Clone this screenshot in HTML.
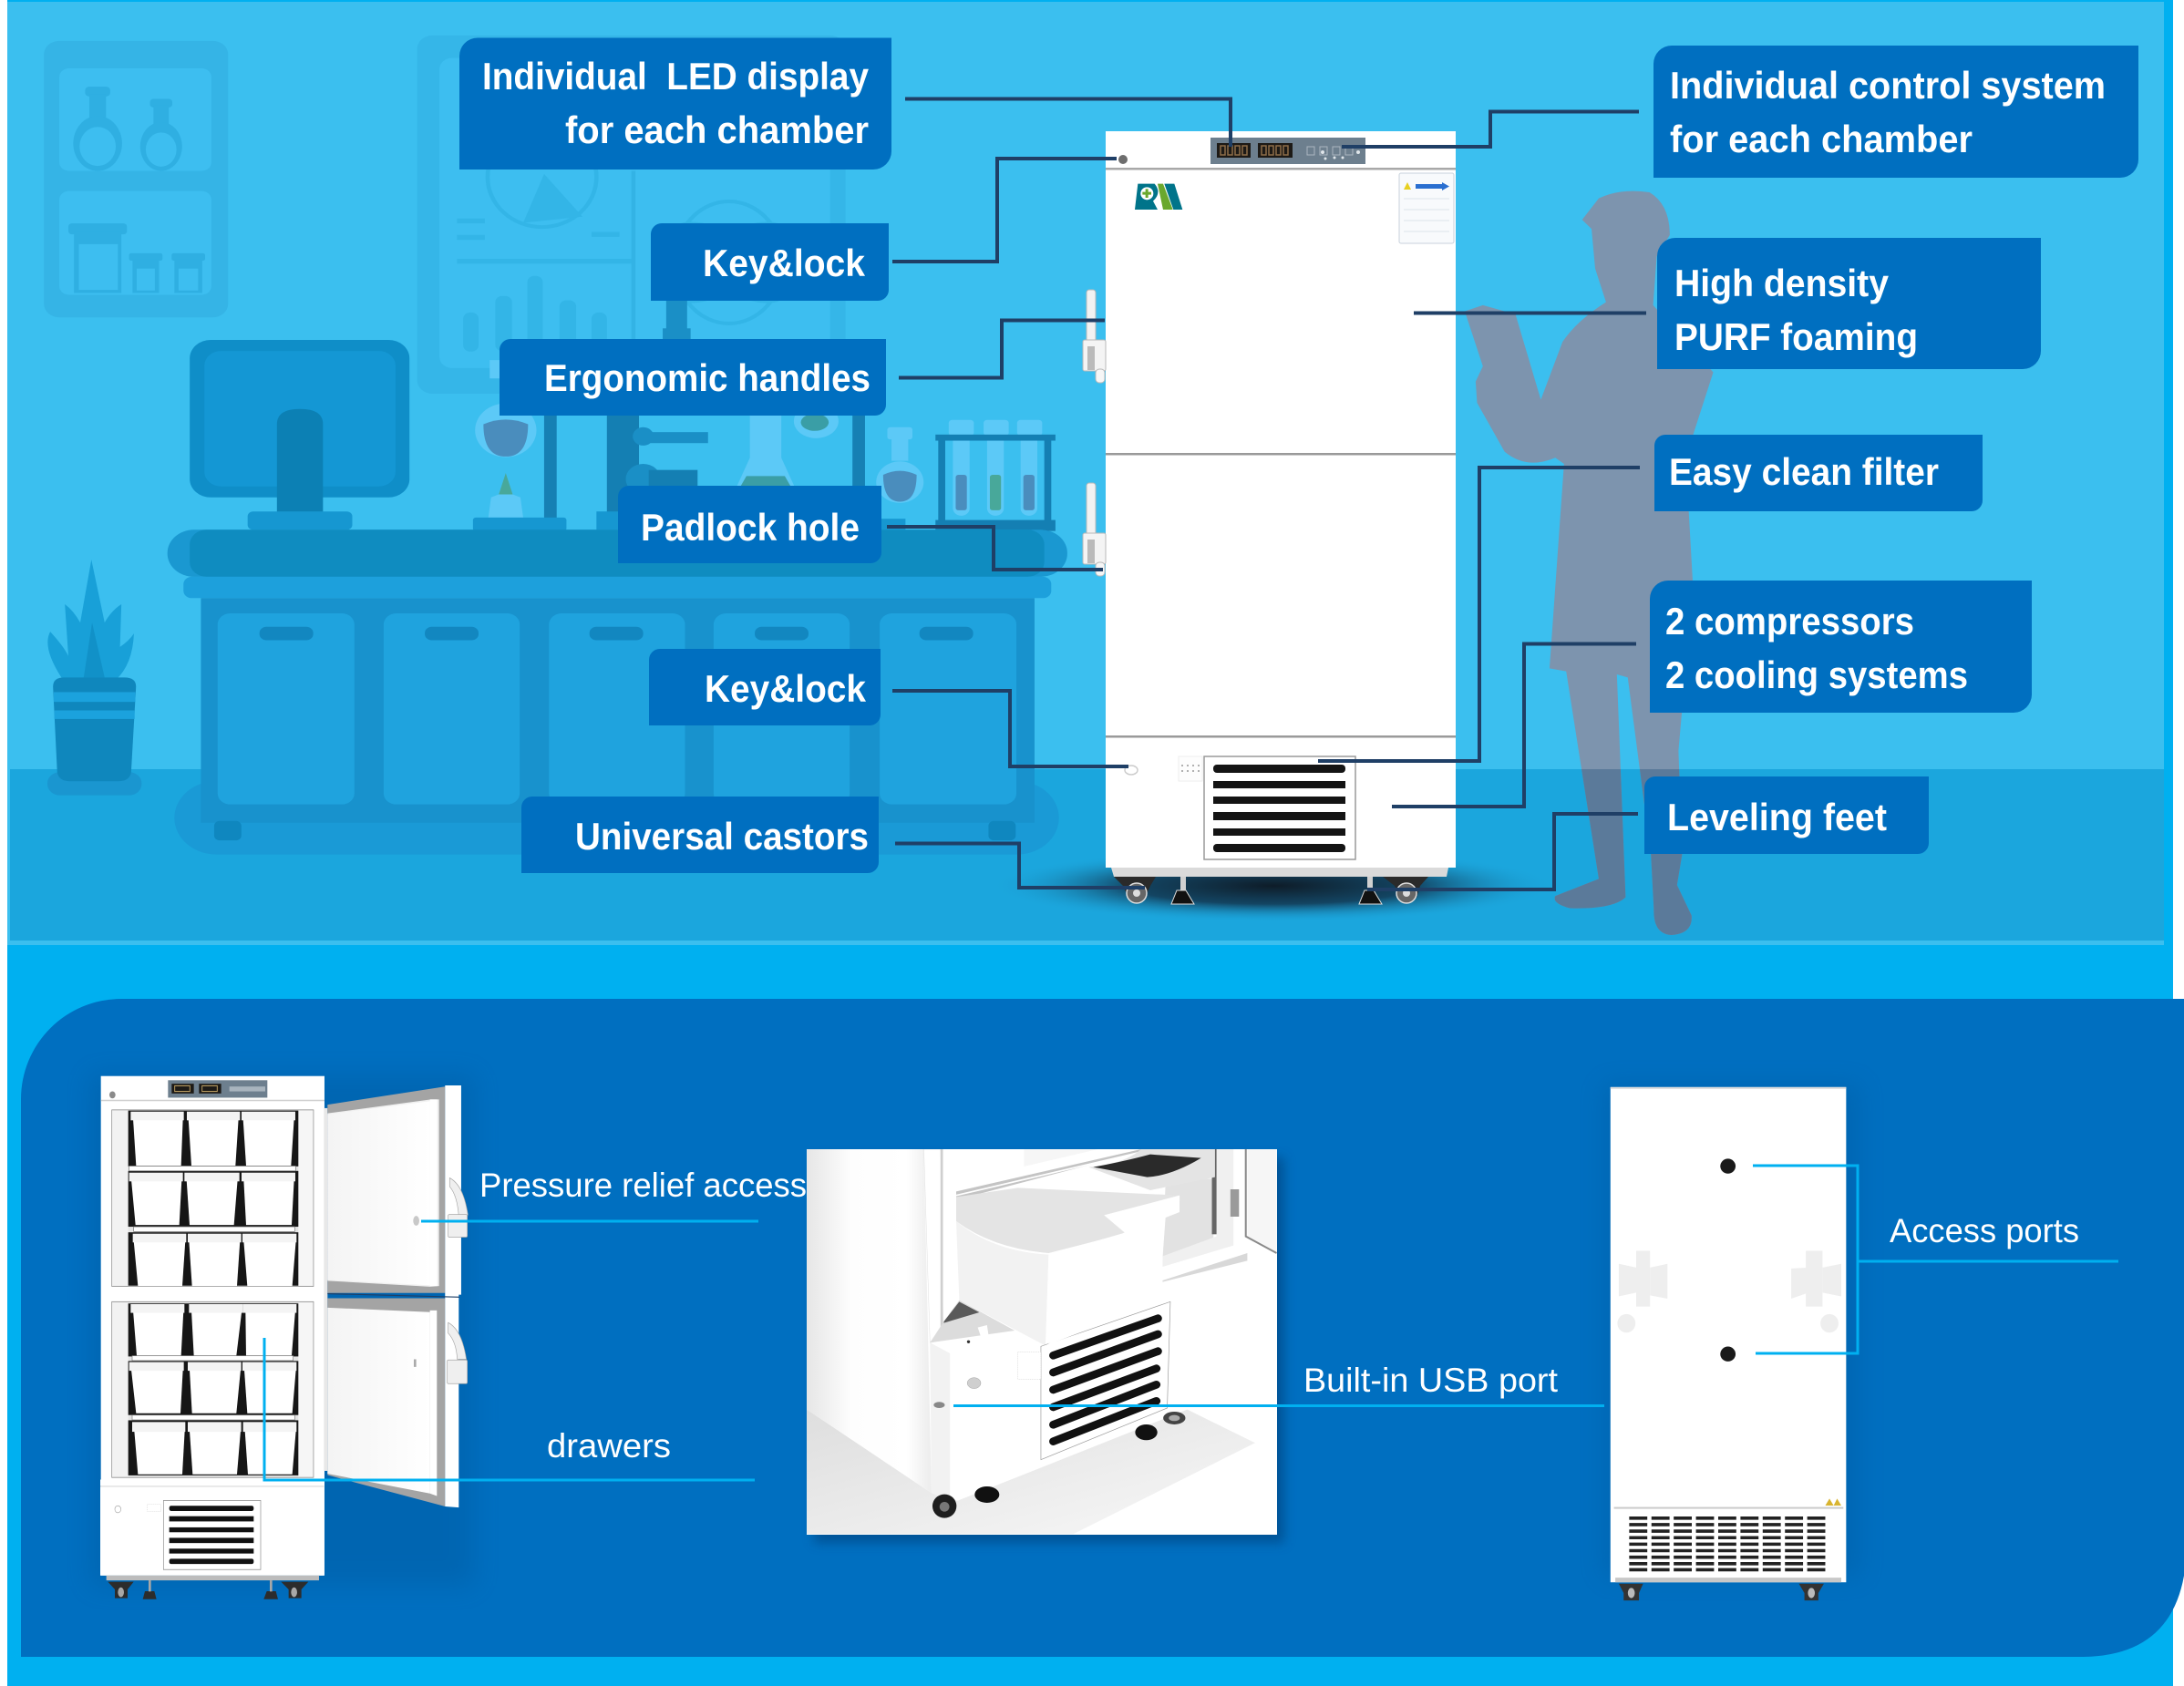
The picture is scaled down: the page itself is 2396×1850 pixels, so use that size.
<!DOCTYPE html>
<html><head><meta charset="utf-8"><style>
html,body{margin:0;padding:0;background:#fff}
svg{display:block}
.b{font-family:"Liberation Sans",sans-serif;font-weight:bold;font-size:42px;fill:#fff}
.r{font-family:"Liberation Sans",sans-serif;font-size:37px;fill:#fff}
</style></head><body>
<svg width="2396" height="1850" viewBox="0 0 2396 1850" xmlns="http://www.w3.org/2000/svg">
<defs>
<filter id="bl" x="-30%" y="-30%" width="160%" height="160%"><feGaussianBlur stdDeviation="14"/></filter>
<filter id="bs" x="-30%" y="-30%" width="160%" height="160%"><feGaussianBlur stdDeviation="6"/></filter>
<linearGradient id="fl" x1="0" y1="0" x2="1" y2="0"><stop offset="0" stop-color="#f4f4f4"/><stop offset="1" stop-color="#ffffff"/></linearGradient>
<linearGradient id="sd" x1="0" y1="0" x2="1" y2="0"><stop offset="0" stop-color="#e6e6e6"/><stop offset=".35" stop-color="#fdfdfd"/><stop offset=".8" stop-color="#ffffff"/><stop offset="1" stop-color="#ececec"/></linearGradient>
<linearGradient id="fr" x1="0" y1="0" x2="1" y2="1"><stop offset="0" stop-color="#dedede"/><stop offset="1" stop-color="#f8f8f8"/></linearGradient>
<radialGradient id="sh"><stop offset="0" stop-color="#0e1c28"/><stop offset=".5" stop-color="#123a55" stop-opacity=".9"/><stop offset="1" stop-color="#1ba6dd" stop-opacity="0"/></radialGradient>
<clipPath id="cf"><rect x="1150" y="844" width="1000" height="300"/></clipPath>
<clipPath id="cp"><rect x="885" y="1261" width="516" height="423"/></clipPath>
<g id="person"><path d="M737,360 L760,325 Q790,308 830,315 Q858,335 858,385 L840,420 L835,500 L850,520 L918,610 L880,750 L890,960 L870,1230 L875,1400 L868,1450 L888,1500 Q890,1530 860,1532 Q835,1530 836,1490 L832,1400 L800,1110 L785,1105 L797,1470 Q780,1490 720,1488 Q695,1480 700,1468 L760,1440 L715,1100 L692,1095 L712,760 L700,750 Q660,770 630,740 L592,660 L590,625 L600,600 L575,510 L600,500 L645,515 L680,655 L710,560 Q730,525 770,495 L755,440 L750,375 Z"/></g>
</defs>

<!-- backgrounds -->
<rect x="8" y="0" width="2376" height="1850" fill="#00b0f0"/>
<rect x="8" y="2" width="2366" height="1035" fill="#3bbfef"/>
<rect x="11" y="844" width="2363" height="188" fill="#1ba6dd"/>

<!-- lab scene -->
<g transform="scale(.7653,.6697)">
  <rect x="63" y="67" width="264" height="453" rx="22" fill="#35b4e6"/>
  <rect x="85" y="112" width="218" height="168" rx="14" fill="#3dbef0"/>
  <rect x="85" y="313" width="218" height="170" rx="14" fill="#3dbef0"/>
  <g fill="#2fafe2">
    <rect x="122" y="142" width="36" height="16" rx="6"/><rect x="128" y="155" width="24" height="40"/><ellipse cx="140" cy="235" rx="35" ry="45"/>
    <rect x="215" y="162" width="32" height="14" rx="5"/><rect x="220" y="172" width="22" height="40"/><ellipse cx="231" cy="240" rx="30" ry="40"/>
    <rect x="98" y="366" width="84" height="18" rx="5"/><rect x="106" y="380" width="68" height="100"/>
    <rect x="185" y="415" width="48" height="12" rx="3"/><rect x="190" y="425" width="38" height="55"/>
    <rect x="246" y="415" width="48" height="12" rx="3"/><rect x="250" y="425" width="40" height="55"/>
  </g>
  <g fill="#3dbef0"><ellipse cx="140" cy="240" rx="26" ry="32"/><ellipse cx="231" cy="245" rx="22" ry="28"/><rect x="113" y="400" width="56" height="75"/><rect x="196" y="440" width="26" height="36"/><rect x="256" y="440" width="28" height="36"/></g>

  <rect x="598" y="58" width="614" height="587" rx="22" fill="#35b6e8"/>
  <rect x="630" y="95" width="560" height="508" rx="18" fill="#3dbef0"/>
  <rect x="905" y="280" width="6" height="320" fill="#33b3e5"/>
  <g fill="none" stroke="#33b5e7" stroke-width="6"><ellipse cx="777" cy="290" rx="78" ry="82"/><ellipse cx="1045" cy="430" rx="78" ry="100"/><ellipse cx="1045" cy="430" rx="95" ry="40" transform="rotate(35 1045 430)"/><ellipse cx="1045" cy="430" rx="95" ry="40" transform="rotate(-35 1045 430)"/></g>
  <path d="M750,365L780,285L835,355Z" fill="#33b5e7"/>
  <g fill="#33b5e7">
    <rect x="655" y="424" width="250" height="8"/><rect x="655" y="358" width="40" height="8"/><rect x="655" y="385" width="40" height="8"/><rect x="848" y="380" width="40" height="8"/>
    <rect x="664" y="512" width="22" height="64" rx="10"/><rect x="710" y="485" width="24" height="90" rx="10"/><rect x="756" y="452" width="22" height="124" rx="10"/><rect x="802" y="492" width="24" height="84" rx="10"/><rect x="848" y="512" width="22" height="64" rx="10"/>
  </g>
  <rect x="955" y="490" width="30" height="55" fill="#1a8fc6"/><rect x="950" y="538" width="40" height="20" fill="#1a8fc6"/>

  <!-- monitor -->
  <rect x="272" y="557" width="315" height="258" rx="30" fill="#0f8ec8"/>
  <rect x="293" y="575" width="274" height="222" rx="24" fill="#1497d4"/>
  <path d="M397,840V695Q397,670 430,670Q463,670 463,695V840Z" fill="#0c80b4"/>
  <rect x="355" y="838" width="150" height="30" rx="8" fill="#1697d1"/>

  <!-- flasks & lab gear -->
  <rect x="702" y="590" width="30" height="30" fill="#5cc9f7"/>
  <circle cx="725" cy="705" r="44" fill="#5cc9f7"/><path d="M693,695Q725,680 757,695Q757,748 725,748Q693,748 693,695Z" fill="#4a8dbd"/>
  <path d="M700,848 L704,815 L715,810 L725,775 L735,810 L746,815 L750,848Z" fill="#5cc9f7"/><path d="M715,810L725,775L735,810Z" fill="#48a89a"/>
  <rect x="780" y="680" width="18" height="170" fill="#1680b4"/><rect x="678" y="848" width="134" height="22" rx="4" fill="#1697d1"/>
  <rect x="870" y="680" width="46" height="170" fill="#147fb3"/>
  <circle cx="922" cy="715" r="15" fill="#1a8fc6"/><rect x="925" y="708" width="90" height="18" fill="#1a8fc6"/>
  <circle cx="922" cy="785" r="25" fill="#1a8fc6"/><rect x="930" y="770" width="70" height="30" fill="#147fb3"/>
  <rect x="855" y="838" width="60" height="30" fill="#1697d1"/>
  <path d="M1075,680 H1120 V750 L1140,800 H1055 L1075,750Z" fill="#5cc9f7"/><path d="M1070,780 H1125 L1135,800 H1060Z" fill="#3a9ea6"/>
  <ellipse cx="1170" cy="690" rx="32" ry="28" fill="#5cc9f7"/><ellipse cx="1168" cy="692" rx="20" ry="14" fill="#3a9ea6"/>
  <rect x="1222" y="680" width="18" height="190" fill="#1680b4"/>
  <rect x="1272" y="700" width="36" height="20" rx="4" fill="#5cc9f7"/><rect x="1278" y="715" width="24" height="40" fill="#5cc9f7"/><circle cx="1290" cy="790" r="34" fill="#5cc9f7"/><path d="M1266,778Q1290,765 1314,778Q1314,822 1290,822Q1266,822 1266,778Z" fill="#4a8dbd"/>
  <g fill="#5cc9f7"><rect x="1360" y="688" width="36" height="26" rx="5"/><rect x="1366" y="710" width="24" height="135" rx="12"/><rect x="1410" y="688" width="36" height="26" rx="5"/><rect x="1415" y="710" width="24" height="135" rx="12"/><rect x="1458" y="688" width="36" height="26" rx="5"/><rect x="1463" y="710" width="24" height="135" rx="12"/></g>
  <rect x="1370" y="778" width="16" height="58" rx="4" fill="#4a8dbd"/><rect x="1419" y="778" width="16" height="58" rx="4" fill="#48a89a"/><rect x="1467" y="778" width="16" height="58" rx="4" fill="#4a8dbd"/>
  <g fill="#147fb3"><rect x="1341" y="712" width="172" height="10"/><rect x="1345" y="715" width="10" height="145"/><rect x="1497" y="715" width="10" height="145"/><rect x="1341" y="852" width="172" height="18"/></g>
  <rect x="1260" y="850" width="38" height="18" fill="#1697d1"/>

  <!-- counter -->
  <rect x="250" y="1280" width="1268" height="120" rx="60" fill="#1a9ad6"/>
  <rect x="240" y="868" width="1290" height="77" rx="38" fill="#1a98d1"/>
  <rect x="272" y="868" width="1225" height="77" rx="24" fill="#0f8cc0"/>
  <rect x="263" y="945" width="1244" height="35" rx="12" fill="#1da0dc"/>
  <rect x="288" y="980" width="1195" height="368" fill="#1892cd"/>
  <g fill="#1fa3de"><rect x="312" y="1005" width="196" height="313" rx="18"/><rect x="550" y="1005" width="195" height="313" rx="18"/><rect x="787" y="1005" width="195" height="313" rx="18"/><rect x="1023" y="1005" width="195" height="313" rx="18"/><rect x="1261" y="1005" width="196" height="313" rx="18"/></g>
  <g fill="#1287c0"><rect x="372" y="1027" width="77" height="22" rx="10"/><rect x="609" y="1027" width="77" height="22" rx="10"/><rect x="845" y="1027" width="77" height="22" rx="10"/><rect x="1082" y="1027" width="77" height="22" rx="10"/><rect x="1318" y="1027" width="77" height="22" rx="10"/></g>
  <rect x="307" y="1345" width="39" height="32" rx="8" fill="#0f87bf"/><rect x="1417" y="1345" width="39" height="32" rx="8" fill="#0f87bf"/>

  <!-- plant -->
  <path d="M88,1110 Q60,1060 72,1035 Q92,1060 98,1075 L93,990 Q105,1000 115,1020 L131,917 L150,1020 Q160,1000 174,990 L172,1060 Q185,1050 192,1038 Q190,1090 165,1115Z" fill="#18a0d8"/>
  <path d="M120,1110 L132,1020 L150,1110Z" fill="#1191c8"/>
  <rect x="68" y="1265" width="135" height="38" rx="18" fill="#1a96d0"/>
  <path d="M76,1125 Q76,1110 92,1110 H178 Q195,1110 195,1125 L188,1265 Q186,1280 170,1280 H100 Q84,1280 82,1265Z" fill="#0f87bd"/>
  <rect x="77" y="1134" width="117" height="16" fill="#1ba2dd"/><rect x="78" y="1164" width="115" height="14" fill="#1ba2dd"/>
</g>

<!-- person -->
<g transform="translate(1150,0) scale(.7947,.6697)" fill="#7d94ae"><use href="#person"/></g>
<g clip-path="url(#cf)"><g transform="translate(1150,0) scale(.7947,.6697)" fill="#5b7a9a"><use href="#person"/></g></g>

<!-- main fridge -->
<ellipse cx="1397" cy="972" rx="310" ry="40" fill="url(#sh)"/>
<rect x="1213" y="144" width="384" height="808" fill="#fff"/>
<rect x="1213" y="184" width="384" height="2.500" fill="#a8a8a8"/>
<rect x="1213" y="497" width="384" height="2.500" fill="#9a9a9a"/>
<rect x="1213" y="807" width="384" height="2.500" fill="#9a9a9a"/>
<rect x="1328" y="151" width="170" height="29" fill="#6d7f8e"/>
<rect x="1335" y="157" width="37" height="16" fill="#1d1a16"/><rect x="1380" y="157" width="38" height="16" fill="#1d1a16"/>
<g fill="none" stroke="#8d6d48" stroke-width="1.500"><path d="M1339,160h5v10h-5zM1347,160h5v10h-5zM1355,160h5v10h-5zM1363,160h5v10h-5zM1384,160h5v10h-5zM1392,160h5v10h-5zM1400,160h5v10h-5zM1408,160h5v10h-5z"/></g>
<g fill="none" stroke="#aab6c0" stroke-width="1"><path d="M1434,161h8v9h-8zM1448,161h8v9h-8zM1462,161h8v9h-8zM1476,161h8v9h-8z"/></g>
<g fill="#dfe5ea"><circle cx="1451" cy="167" r="2"/><circle cx="1490" cy="167" r="2"/><circle cx="1454" cy="174" r="1.500"/><circle cx="1464" cy="173" r="1.500"/><circle cx="1473" cy="173" r="1.500"/></g>
<circle cx="1232" cy="175" r="5" fill="#6e6e6e"/>
<!-- logo -->
<g transform="translate(1170,130) scale(.3333)">
  <path d="M235,215H290Q315,245 285,272L300,300H225Z" fill="#00748a"/>
  <circle cx="265" cy="247" r="21" fill="#fff"/>
  <path d="M260,232h9v10h10v9h-10v10h-9v-10h-10v-9h10z" fill="#6aa82d"/>
  <path d="M300,215H318L350,300H318Z" fill="#6aa82d"/>
  <path d="M322,215H355L382,300H352Z" fill="#00748a"/>
</g>
<!-- spec label -->
<rect x="1535" y="190" width="60" height="77" rx="2" fill="#f8fafc" stroke="#c8d2dc"/>
<rect x="1553" y="202" width="30" height="5" fill="#2a6fd0"/><path d="M1582,200l8,4.500l-8,4.500z" fill="#2a6fd0"/>
<path d="M1544,200l4,8h-8z" fill="#e8d020"/>
<g stroke="#e6ebf0" stroke-width="1.500"><path d="M1540,218h50M1540,230h50M1540,242h50M1540,254h50"/></g>
<!-- handles -->
<g stroke="#b8b8b8" stroke-width="1">
  <rect x="1192" y="318" width="10" height="62" rx="3" fill="#f2f2f2"/><rect x="1188" y="373" width="25" height="34" rx="2" fill="#f4f4f4"/><rect x="1202" y="405" width="10" height="15" rx="4" fill="#f6f6f6"/>
  <rect x="1192" y="530" width="10" height="62" rx="3" fill="#f2f2f2"/><rect x="1188" y="585" width="25" height="34" rx="2" fill="#f4f4f4"/><rect x="1202" y="617" width="10" height="15" rx="4" fill="#f6f6f6"/>
</g>
<rect x="1193" y="380" width="8" height="26" fill="#8a8a8a" opacity=".55"/><rect x="1193" y="592" width="8" height="26" fill="#8a8a8a" opacity=".55"/>
<!-- compressor -->
<rect x="1293" y="830" width="26" height="27" fill="#fdfdfd" stroke="#eee"/>
<g fill="#999"><circle cx="1297" cy="840" r="1"/><circle cx="1303" cy="840" r="1"/><circle cx="1309" cy="840" r="1"/><circle cx="1315" cy="840" r="1"/><circle cx="1297" cy="846" r="1"/><circle cx="1303" cy="846" r="1"/><circle cx="1309" cy="846" r="1"/><circle cx="1315" cy="846" r="1"/></g>
<ellipse cx="1241" cy="845" rx="7" ry="5" fill="none" stroke="#ccc" stroke-width="1.500"/>
<rect x="1321" y="830" width="166" height="113" fill="#fff" stroke="#9a9a9a" stroke-width="1.500"/>
<g fill="#141414"><rect x="1331" y="839" width="145" height="9" rx="4"/><rect x="1331" y="857" width="145" height="8"/><rect x="1331" y="874" width="145" height="8"/><rect x="1331" y="891" width="145" height="9"/><rect x="1331" y="909" width="145" height="8"/><rect x="1331" y="926" width="145" height="9" rx="4"/></g>
<path d="M1219,952H1589L1587,962H1222Z" fill="#dadada"/>
<!-- castors -->
<g>
  <path d="M1222,962H1268L1262,972L1256,985H1238L1232,972Z" fill="#2a2a2a"/><path d="M1517,962H1567L1558,972L1554,985H1536L1530,972Z" fill="#2a2a2a"/>
  <circle cx="1247" cy="980" r="11" fill="#666" stroke="#ddd" stroke-width="1.500"/><circle cx="1247" cy="980" r="4" fill="#ddd"/>
  <circle cx="1543" cy="980" r="11" fill="#666" stroke="#ddd" stroke-width="1.500"/><circle cx="1543" cy="980" r="4" fill="#ddd"/>
  <rect x="1295" y="962" width="6" height="15" fill="#d0d0d0"/><rect x="1500" y="962" width="6" height="15" fill="#d0d0d0"/>
  <path d="M1291,977h10l9,15h-25z" fill="#111" stroke="#ddd" stroke-width="1"/><path d="M1497,977h10l9,15h-25z" fill="#111" stroke="#ddd" stroke-width="1"/>
</g>

<!-- connector lines -->
<g fill="none" stroke="#1f3f66" stroke-width="4">
  <path d="M993,108.500H1350V161"/>
  <path d="M1798,122.500H1635V161H1472"/>
  <path d="M979,287H1094V174H1225"/>
  <path d="M986,414.500H1099V351.500H1212"/>
  <path d="M973,578H1090V625H1210"/>
  <path d="M979,758H1108V841H1238"/>
  <path d="M982,925.500H1118V974H1256"/>
  <path d="M1551,343.500H1806"/>
  <path d="M1799,513H1623V835H1446"/>
  <path d="M1795,706.500H1672V885H1527"/>
  <path d="M1797,893H1705V976H1500"/>
</g>

<!-- label boxes -->
<g fill="#006fc0">
  <path d="M524,41.500H978V166a20,20 0 0 1 -20,20H504V61.500a20,20 0 0 1 20,-20z"/>
  <path d="M726,245H975V318a12,12 0 0 1 -12,12H714V257a12,12 0 0 1 12,-12z"/>
  <path d="M560,372H972V444a12,12 0 0 1 -12,12H548V384a12,12 0 0 1 12,-12z"/>
  <path d="M690,533H967V606a12,12 0 0 1 -12,12H678V545a12,12 0 0 1 12,-12z"/>
  <path d="M724,712H966V784a12,12 0 0 1 -12,12H712V724a12,12 0 0 1 12,-12z"/>
  <path d="M584,874H964V946a12,12 0 0 1 -12,12H572V886a12,12 0 0 1 12,-12z"/>
  <path d="M1834,50H2346V175a20,20 0 0 1 -20,20H1814V70a20,20 0 0 1 20,-20z"/>
  <path d="M1838,261H2239V385a20,20 0 0 1 -20,20H1818V281a20,20 0 0 1 20,-20z"/>
  <path d="M1827,477H2175V549a12,12 0 0 1 -12,12H1815V489a12,12 0 0 1 12,-12z"/>
  <path d="M1830,637H2229V762a20,20 0 0 1 -20,20H1810V657a20,20 0 0 1 20,-20z"/>
  <path d="M1816,852H2116V925a12,12 0 0 1 -12,12H1804V864a12,12 0 0 1 12,-12z"/>
</g>
<g class="b">
  <text class="b" x="529" y="98" textLength="424" lengthAdjust="spacingAndGlyphs" xml:space="preserve">Individual  LED display</text>
  <text class="b" x="620" y="157" textLength="333" lengthAdjust="spacingAndGlyphs">for each chamber</text>
  <text class="b" x="771" y="303" textLength="178" lengthAdjust="spacingAndGlyphs">Key&amp;lock</text>
  <text class="b" x="597" y="429" textLength="358" lengthAdjust="spacingAndGlyphs">Ergonomic handles</text>
  <text class="b" x="703" y="593" textLength="240" lengthAdjust="spacingAndGlyphs">Padlock hole</text>
  <text class="b" x="773" y="770" textLength="177" lengthAdjust="spacingAndGlyphs">Key&amp;lock</text>
  <text class="b" x="631" y="932" textLength="322" lengthAdjust="spacingAndGlyphs">Universal castors</text>
  <text class="b" x="1832" y="108" textLength="478" lengthAdjust="spacingAndGlyphs">Individual control system</text>
  <text class="b" x="1832" y="167" textLength="332" lengthAdjust="spacingAndGlyphs">for each chamber</text>
  <text class="b" x="1837" y="325" textLength="235" lengthAdjust="spacingAndGlyphs">High density</text>
  <text class="b" x="1837" y="384" textLength="267" lengthAdjust="spacingAndGlyphs">PURF foaming</text>
  <text class="b" x="1831" y="532" textLength="296" lengthAdjust="spacingAndGlyphs">Easy clean filter</text>
  <text class="b" x="1827" y="696" textLength="273" lengthAdjust="spacingAndGlyphs">2 compressors</text>
  <text class="b" x="1827" y="755" textLength="332" lengthAdjust="spacingAndGlyphs">2 cooling systems</text>
  <text class="b" x="1829" y="911" textLength="241" lengthAdjust="spacingAndGlyphs">Leveling feet</text>
</g>

<!-- lower section -->
<path d="M133,1096H2396V1729Q2380,1818 2283,1818H23V1206A110,110 0 0 1 133,1096Z" fill="#006fc0"/>

<!-- left open fridge -->
<rect x="100" y="1180" width="420" height="560" fill="#00457f" opacity=".22" filter="url(#bl)"/>
<g transform="translate(90,1170) scale(.3333,.3827)">
  <rect x="62" y="28" width="736" height="1432" fill="#fff"/>
  <rect x="62" y="96" width="736" height="4" fill="#cfcfcf"/>
  <circle cx="100" cy="82" r="10" fill="#8a8a8a"/>
  <rect x="283" y="40" width="327" height="50" fill="#6d7f8e"/>
  <rect x="295" y="50" width="73" height="28" fill="#1d1a16"/><rect x="385" y="50" width="73" height="28" fill="#1d1a16"/>
  <g fill="none" stroke="#b69a60" stroke-width="3"><path d="M305,56h50v16h-50zM395,56h50v16h-50z"/></g>
  <rect x="485" y="58" width="118" height="14" fill="#a8b4be"/>
  <!-- chamber frames -->
  <g fill="#e4e4e4" stroke="#8a8a8a" stroke-width="2">
    <rect x="98" y="125" width="664" height="506"/><rect x="98" y="675" width="664" height="504"/>
  </g>
  <rect x="712" y="127" width="48" height="502" fill="#f6f6f6"/><rect x="712" y="677" width="48" height="500" fill="#f6f6f6"/>
  <rect x="100" y="127" width="52" height="502" fill="#f2f2f2"/><rect x="100" y="677" width="52" height="500" fill="#f2f2f2"/>
  <g fill="#161616">
    <rect x="152" y="127" width="560" height="160"/><rect x="152" y="300" width="560" height="160"/><rect x="152" y="476" width="560" height="153"/>
    <rect x="152" y="680" width="560" height="152"/><rect x="152" y="845" width="560" height="155"/><rect x="152" y="1015" width="560" height="158"/>
  </g>
  <g fill="#fff">
    <path d="M168,150H332L326,285H178Z"/><path d="M350,150H515L505,285H360Z"/><path d="M530,150H698L688,285H540Z"/>
    <path d="M162,325H328L320,455H176Z"/><path d="M344,325H512L500,455H354Z"/><path d="M532,325H698L690,455H540Z"/>
    <path d="M170,500H340L330,630H184Z"/><path d="M352,500H520L510,630H362Z"/><path d="M532,500H704L692,630H544Z"/>
    <path d="M168,700H334L326,830H180Z"/><path d="M360,700H526L508,830H368Z"/><path d="M538,700H702L690,830H540Z"/>
    <path d="M162,870H332L324,995H178Z"/><path d="M354,870H522L508,995H362Z"/><path d="M534,870H704L692,995H544Z"/>
    <path d="M172,1045H338L330,1170H184Z"/><path d="M354,1045H522L510,1170H364Z"/><path d="M536,1045H704L692,1170H546Z"/>
  </g>
  <g fill="#f4f4f4">
    <rect x="160" y="130" width="175" height="25"/><rect x="345" y="130" width="175" height="25"/><rect x="525" y="130" width="177" height="25"/>
    <rect x="155" y="305" width="177" height="25"/><rect x="337" y="305" width="181" height="25"/><rect x="525" y="305" width="177" height="25"/>
    <rect x="167" y="480" width="176" height="25"/><rect x="348" y="480" width="176" height="25"/><rect x="528" y="480" width="178" height="25"/>
    <rect x="160" y="682" width="177" height="25"/><rect x="352" y="682" width="178" height="25"/><rect x="530" y="682" width="176" height="25"/>
    <rect x="155" y="848" width="180" height="25"/><rect x="348" y="848" width="176" height="25"/><rect x="528" y="848" width="178" height="25"/>
    <rect x="165" y="1020" width="175" height="28"/><rect x="348" y="1020" width="176" height="28"/><rect x="530" y="1020" width="176" height="28"/>
  </g>
  <g fill="#fff" stroke="#777" stroke-width="2">
    <rect x="155" y="286" width="548" height="14"/><rect x="170" y="460" width="530" height="14"/><rect x="165" y="830" width="530" height="14"/><rect x="165" y="1000" width="535" height="14"/>
  </g>
  <!-- doors -->
  <rect x="796" y="120" width="12" height="1040" fill="#e8e8e8"/>
  <path d="M808,110L1195,58V650H808Z" fill="#a4a4a4"/>
  <path d="M808,135L1148,95H1175V630L1145,632L808,615Z" fill="#f0f0f0"/>
  <path d="M808,138L1145,100V628L808,612Z" fill="url(#fl)"/>
  <rect x="1145" y="95" width="24" height="535" fill="#fff"/>
  <path d="M808,665L1195,665V1262L808,1172Z" fill="#a4a4a4"/>
  <path d="M808,692L1145,705V1225L808,1168Z" fill="url(#fl)"/>
  <path d="M1145,700H1168V1232L1145,1225Z" fill="#fff"/>
  <path d="M1195,55H1248V655H1240V660H1195Z" fill="#fff"/>
  <path d="M1195,660H1240V1265L1195,1262Z" fill="#fff"/>
  <path d="M808,652L1242,662" stroke="#1f3f66" stroke-width="3" fill="none"/>
  <ellipse cx="1100" cy="443" rx="10" ry="14" fill="#c8c8c8"/>
  <rect x="1092" y="840" width="8" height="22" fill="#aaa"/>
  <g fill="#efefef" stroke="#a8a8a8" stroke-width="2">
    <path d="M1210,320Q1255,340 1270,425L1268,430H1240Q1235,370 1210,345Z"/><rect x="1205" y="425" width="63" height="65" rx="4"/>
    <path d="M1205,735Q1250,755 1265,840H1235Q1232,790 1205,765Z"/><rect x="1202" y="842" width="66" height="68" rx="4"/>
  </g>
  <!-- base -->
  <rect x="60" y="1185" width="738" height="18" fill="#fff"/>
  <rect x="60" y="1203" width="736" height="3" fill="#d8d8d8"/>
  <rect x="60" y="1206" width="736" height="254" fill="#fff"/>
  <rect x="268" y="1245" width="320" height="198" fill="#fff" stroke="#8a8a8a" stroke-width="2"/>
  <g fill="#111"><rect x="287" y="1260" width="278" height="15" rx="6"/><rect x="287" y="1290" width="278" height="15"/><rect x="287" y="1322" width="278" height="14"/><rect x="287" y="1352" width="278" height="15"/><rect x="287" y="1383" width="278" height="14"/><rect x="287" y="1412" width="278" height="15" rx="6"/></g>
  <circle cx="118" cy="1270" r="10" fill="none" stroke="#aaa" stroke-width="2"/>
  <rect x="215" y="1255" width="44" height="22" fill="none" stroke="#bbb" stroke-dasharray="3 3"/>
  <rect x="80" y="1460" width="700" height="14" fill="#bcbcbc"/>
  <g fill="#2c2c2c"><path d="M85,1478H170L150,1500V1525H108V1500Z"/><path d="M655,1478H745L722,1500V1525H680V1500Z"/><path d="M207,1505H238L245,1528H200Z"/><path d="M608,1505H638L645,1528H598Z"/></g>
  <g fill="#a8a8a8"><rect x="219" y="1474" width="8" height="32"/><rect x="618" y="1474" width="8" height="32"/><ellipse cx="128" cy="1508" rx="10" ry="14"/><ellipse cx="698" cy="1508" rx="10" ry="14"/></g>
</g>

<!-- middle photo -->
<rect x="893" y="1270" width="516" height="423" fill="#003d74" opacity=".55" filter="url(#bs)"/>
<rect x="885" y="1261" width="516" height="423" fill="#fff"/>
<g clip-path="url(#cp)"><g transform="translate(880,1250) scale(.338,.3333)">
  <path d="M15,890L420,1165L505,1190L1250,890L1470,1000L880,1300H15Z" fill="url(#fr)"/>
  <path d="M15,33H395L420,1165L15,890Z" fill="url(#sd)"/>
  <path d="M395,33H450L458,660L415,670Z" fill="#fff" stroke="#cfcfcf"/>
  <rect x="449" y="33" width="8" height="590" fill="#cfcfcf"/>
  <path d="M720,33H960L720,90Z" fill="#f6f6f6"/>
  <path d="M1180,130H1335V330L1170,390Z" fill="#e2e2e2"/>
  <rect x="1330" y="33" width="30" height="280" fill="#666"/>
  <path d="M500,172L1100,33H1125L500,200Z" fill="#c4c4c4"/>
  <path d="M500,185L1110,40" stroke="#fff" stroke-width="5" fill="none"/>
  <path d="M1100,33H1340V125L1130,168L930,92Q1050,80 1100,33Z" fill="#e4e4e4"/>
  <path d="M945,92Q1050,72 1130,50L1295,62Q1200,120 1120,125Z" fill="#2a2a2a"/>
  <path d="M1360,33H1400V350L1170,420V385L1345,320V33Z" fill="#f0f0f0"/>
  <path d="M1400,33H1540V375L1445,320V33Z" fill="#f6f6f6"/>
  <path d="M1440,33V320L1540,375" fill="none" stroke="#8a8a8a" stroke-width="6"/>
  <rect x="1390" y="165" width="28" height="90" fill="#9a9a9a"/>
  <path d="M500,190L700,160L1225,185V240L1050,310L800,375Q620,360 500,270Z" fill="#e4e4e4"/>
  <path d="M980,250L1225,185V240L1050,310Z" fill="#fff"/>
  <path d="M415,670L690,630L510,530L460,600Z" fill="#dcdcdc"/>
  <path d="M460,600L510,535L575,570L460,605Z" fill="#5a5a5a"/>
  <path d="M570,620L600,612L605,645L580,650Z" fill="#fff"/>
  <circle cx="540" cy="667" r="5" fill="#333"/>
  <path d="M415,670L480,705L775,680L1170,465L1445,375L1425,810L1185,880L775,1055L505,1190L420,1165Z" fill="#fff"/>
  <path d="M415,670L480,705V1190L420,1165Z" fill="#f2f2f2"/>
  <path d="M1170,465L1445,375V400L1170,470Z" fill="#d8d8d8"/>
  <path d="M500,270Q620,370 800,380L790,680L510,530Z" fill="#f2f2f2"/>
  <path d="M800,380L1040,310L1180,250L1165,460L1020,520L790,680Z" fill="#fff"/>
  <path d="M775,682L1195,535L1185,885L775,1055Z" fill="#fff" stroke="#9a9a9a" stroke-width="2"/>
  <path d="M1020,585L1170,530L1165,460L1020,520Z" fill="#fff"/>
  <path d="M790,680L1020,520V590L790,680Z" fill="#fff"/>
  <g fill="none" stroke="#111" stroke-width="26" stroke-linecap="round">
    <path d="M815,712L1155,590"/><path d="M815,768L1155,642"/><path d="M815,825L1155,698"/><path d="M815,882L1150,755"/><path d="M815,940L1150,808"/><path d="M815,995L1150,862"/>
  </g>
  <rect x="700" y="700" width="75" height="90" fill="#fff" stroke="#aaa" stroke-dasharray="3 3"/>
  <ellipse cx="558" cy="803" rx="22" ry="18" fill="#cfcfcf" stroke="#888"/>
  <ellipse cx="445" cy="875" rx="18" ry="10" fill="#888"/>
  <circle cx="462" cy="1208" r="39" fill="#1e1e1e"/><circle cx="462" cy="1210" r="16" fill="#777"/>
  <ellipse cx="600" cy="1170" rx="40" ry="27" fill="#111"/>
  <ellipse cx="1117" cy="965" rx="36" ry="26" fill="#111"/>
  <ellipse cx="1208" cy="918" rx="36" ry="21" fill="#444"/><ellipse cx="1208" cy="918" rx="18" ry="10" fill="#aaa"/>
</g></g>

<!-- right back fridge -->
<rect x="1760" y="1190" width="280" height="540" fill="#00457f" opacity=".2" filter="url(#bl)"/>
<g transform="translate(1200,1050) scale(.7628,.5102)">
  <rect x="743" y="280" width="339" height="1065" fill="#fff"/>
  <rect x="743" y="280" width="339" height="4" fill="#ddd"/>
  <rect x="748" y="1183" width="330" height="4" fill="#ccc"/>
  <ellipse cx="912" cy="450" rx="11" ry="16" fill="#1a1a1a"/><ellipse cx="912" cy="854" rx="11" ry="16" fill="#1a1a1a"/>
  <g fill="#eeeeee"><path d="M755,660L780,668V722L755,730Z"/><path d="M800,668L825,660V735L800,728Z"/><rect x="780" y="632" width="20" height="120"/><path d="M1003,670L1028,668V722L1003,735Z"/><path d="M1048,668L1075,660V730L1048,722Z"/><rect x="1024" y="632" width="24" height="120"/><ellipse cx="766" cy="788" rx="13" ry="20"/><ellipse cx="1058" cy="788" rx="13" ry="20"/></g>
  <path d="M1052,1180L1058,1165L1064,1180ZM1064,1180L1069,1165L1075,1180Z" fill="#d8b430"/>
  <g fill="none" stroke="#222" stroke-width="7" stroke-dasharray="26 6">
    <path d="M770,1207H1056M770,1221H1056M770,1235H1056M770,1249H1056M770,1263H1056M770,1277H1056M770,1291H1056M770,1305H1056M770,1318H1056"/>
  </g>
  <rect x="750" y="1335" width="325" height="10" fill="#c8c8c8"/>
  <g fill="#333"><path d="M755,1348H790L784,1368V1384H762V1368Z"/><path d="M1014,1348H1050L1042,1368V1384H1022V1368Z"/></g>
  <g fill="#bbb"><ellipse cx="773" cy="1368" rx="5" ry="11"/><ellipse cx="1032" cy="1368" rx="5" ry="11"/></g>
</g>

<!-- callout lines -->
<g fill="none" stroke="#00b0f0" stroke-width="3">
  <path d="M462,1340H832"/>
  <path d="M290,1468V1624H828"/>
  <path d="M1046,1542.500H1760"/>
  <path d="M1923,1279H2038V1485H1926"/>
  <path d="M2038,1384H2324"/>
</g>

<text class="r" x="526" y="1313" textLength="359" lengthAdjust="spacingAndGlyphs">Pressure relief access</text>
<text class="r" x="600" y="1599" textLength="136" lengthAdjust="spacingAndGlyphs">drawers</text>
<text class="r" x="1430" y="1527" textLength="279" lengthAdjust="spacingAndGlyphs">Built-in USB port</text>
<text class="r" x="2073" y="1363" textLength="208" lengthAdjust="spacingAndGlyphs">Access ports</text>
</svg>
</body></html>
